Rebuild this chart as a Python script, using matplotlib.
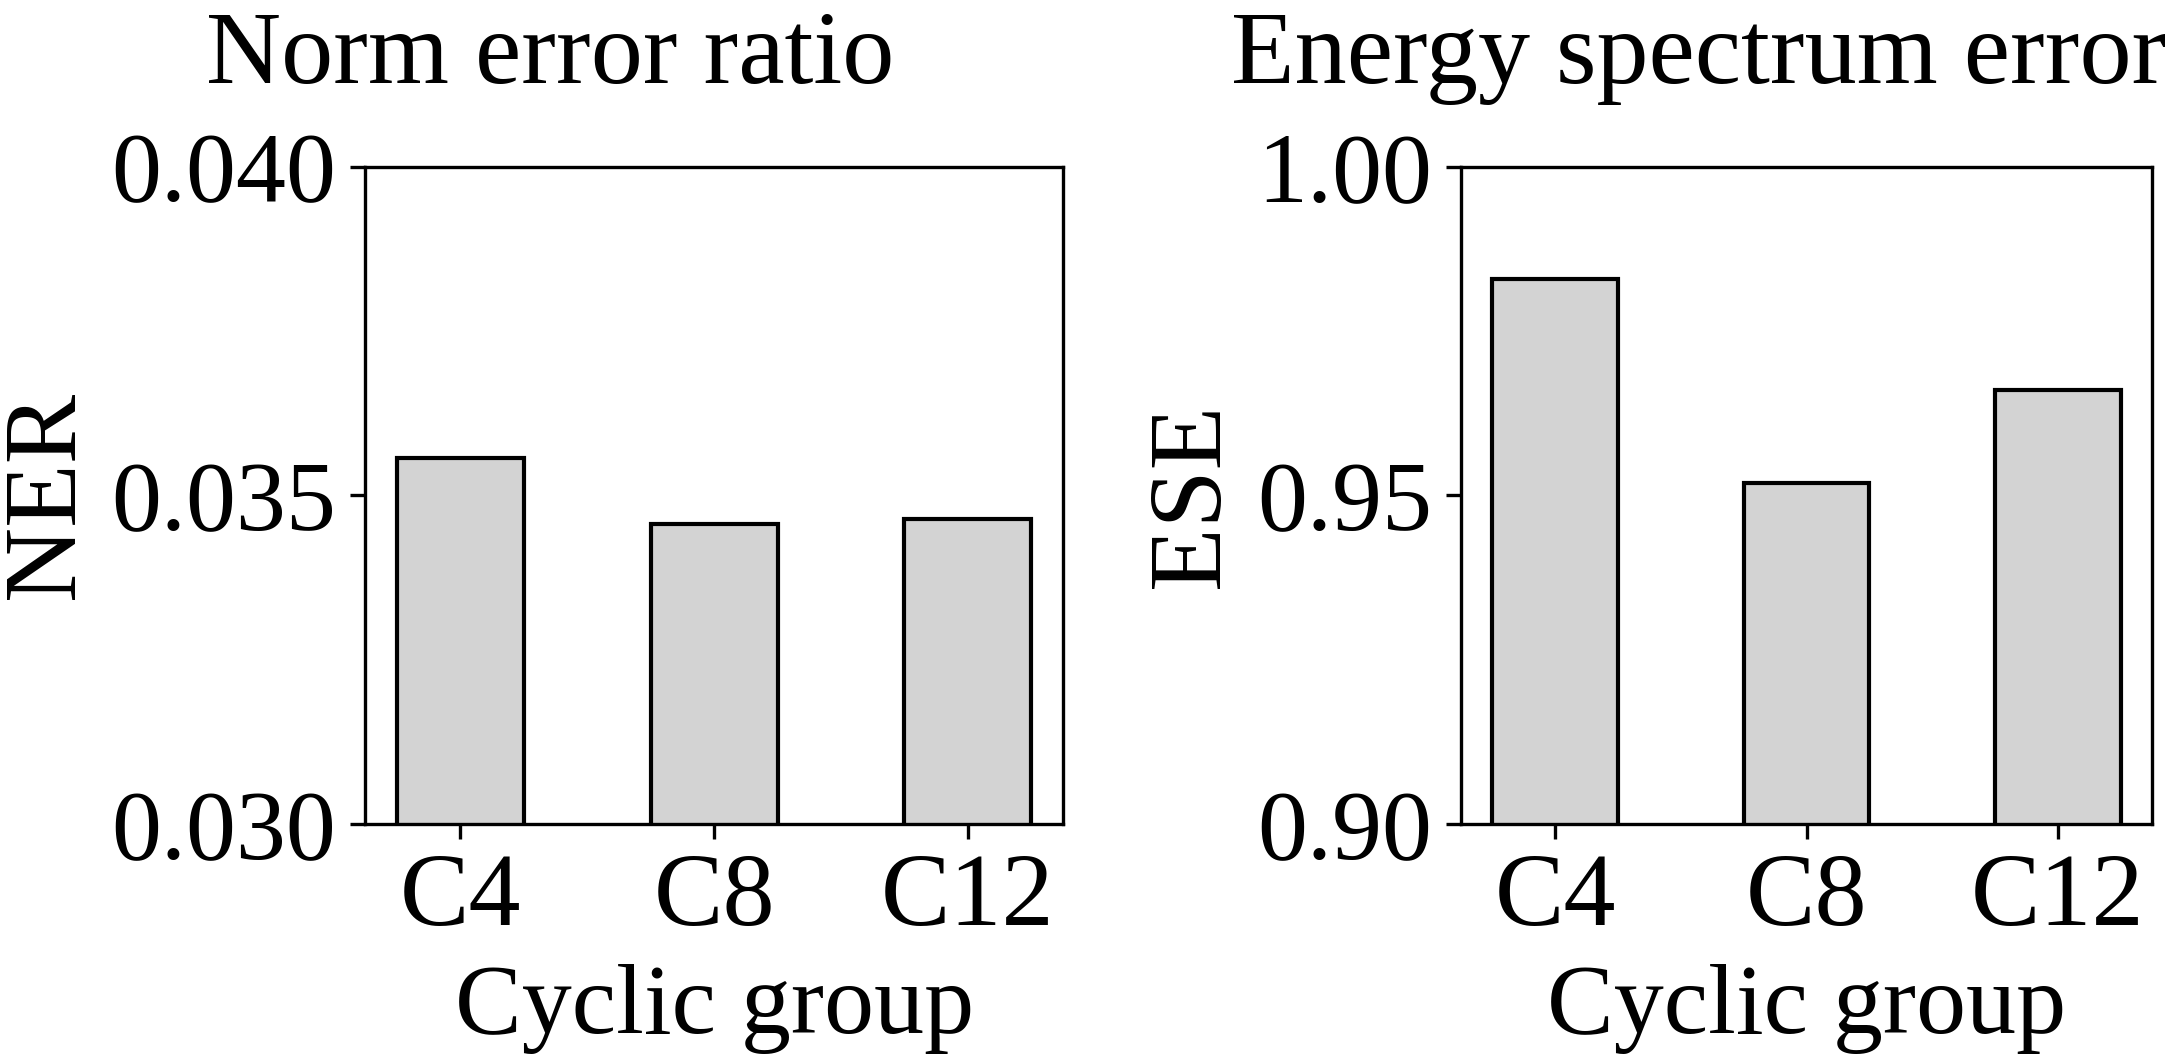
import numpy as np
import matplotlib
matplotlib.use("Agg")
import matplotlib.pyplot as plt
from matplotlib.ticker import FormatStrFormatter

# ---------------- DATA ----------------
groups = ["C4", "C8", "C12"]
ner_values = [0.03557, 0.03456, 0.03464]
ese_values = [0.9829, 0.9519, 0.9660]
# --------------------------------------

plt.rcParams["font.family"] = ["Liberation Serif", "DejaVu Serif"]
plt.rcParams["mathtext.fontset"] = "stix"

fig = plt.figure(figsize=(2174 / 300, 1054 / 300), dpi=300)
ax1 = fig.add_axes([0.168, 0.218, 0.321, 0.624])
ax2 = fig.add_axes([0.672, 0.218, 0.318, 0.624])

x = np.arange(len(groups))

panels = [
    (ax1, ner_values, "NER", "Norm error ratio", (0.030, 0.040), [0.030, 0.035, 0.040], "%.3f", -0.228),
    (ax2, ese_values, "ESE", "Energy spectrum error", (0.90, 1.00), [0.90, 0.95, 1.00], "%.2f", -0.333),
]

for ax, vals, ylab, title, ylim, yticks, fmt, tx in panels:
    ax.bar(x, vals, width=0.5, color="lightgray", edgecolor="black", linewidth=1.0)
    ax.set_ylim(*ylim)
    ax.set_yticks(yticks)
    ax.yaxis.set_major_formatter(FormatStrFormatter(fmt))
    ax.set_xticks(x)
    ax.set_xticklabels(groups)
    ax.tick_params(axis="y", labelsize=24)
    ax.tick_params(axis="x", labelsize=25)
    ax.set_xlabel("Cyclic group", fontsize=24)
    ax.set_ylabel(ylab, fontsize=25)
    ax.set_title(title, fontsize=25, x=tx, ha="left", pad=20)

fig.savefig("out.png", dpi=300)
